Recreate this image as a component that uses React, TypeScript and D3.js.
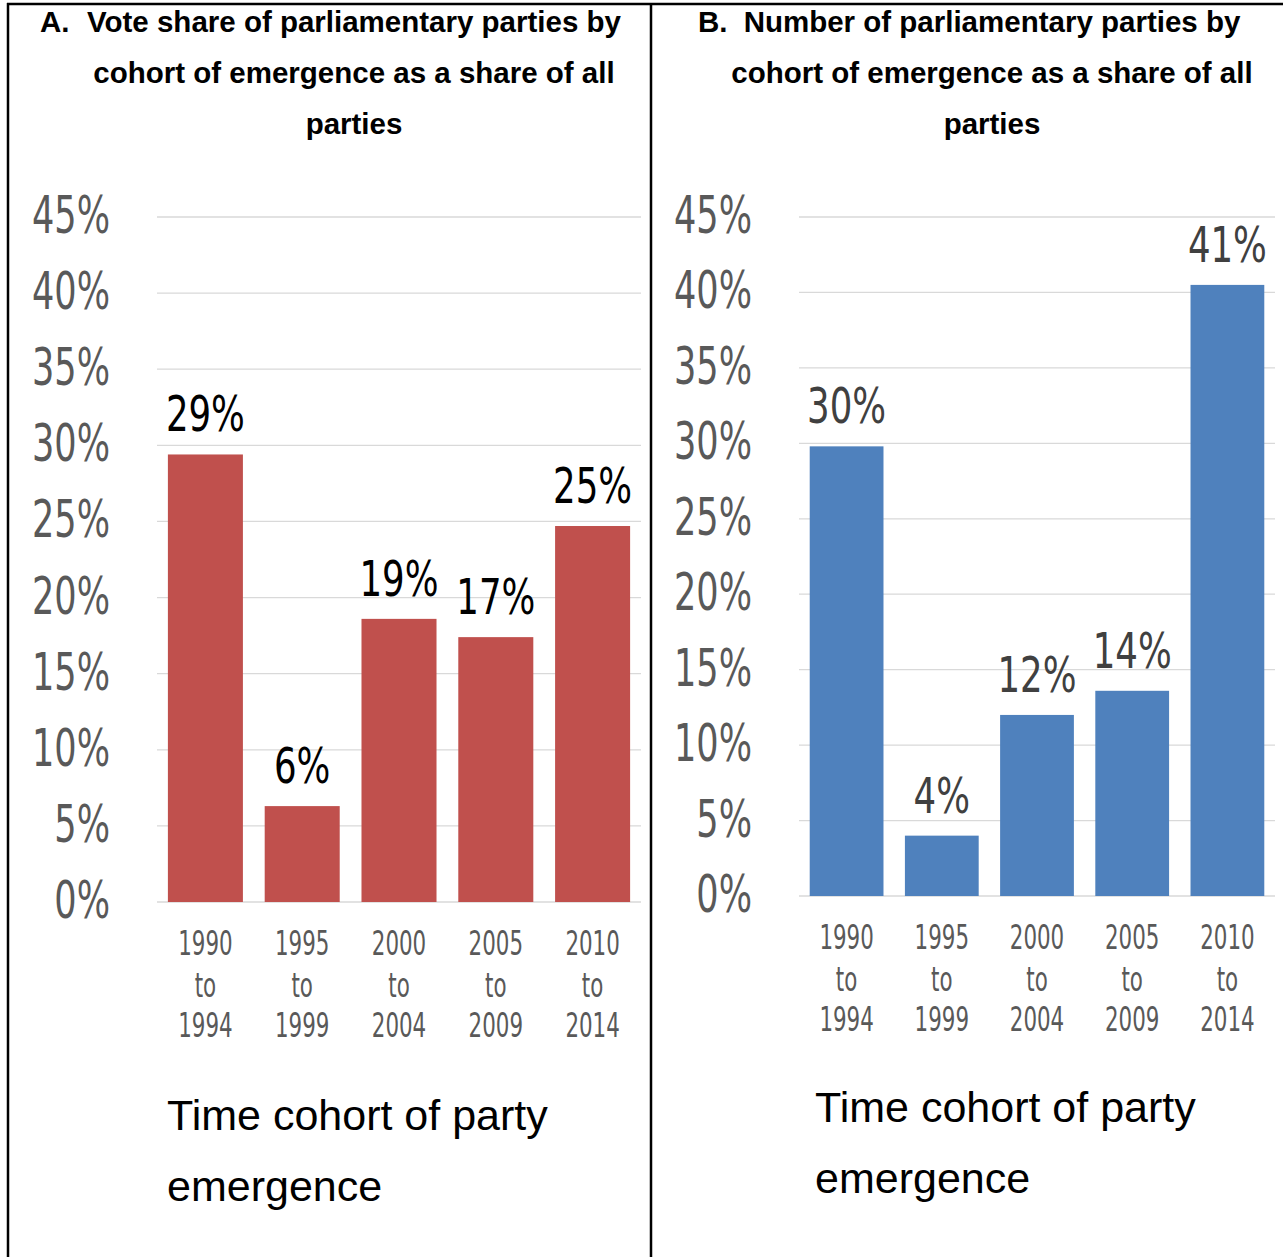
import React from "react";
import * as d3 from "d3";

const cohortStart = ["1990", "1995", "2000", "2005", "2010"];
const cohortEnd = ["1994", "1999", "2004", "2009", "2014"];
const voteShare = [29.4, 6.3, 18.6, 17.4, 24.7];
const partyShare = [29.8, 4.0, 12.0, 13.6, 40.5];
const yTicks = [0, 5, 10, 15, 20, 25, 30, 35, 40, 45];
const titleA = ["Vote share of parliamentary parties by", "cohort of emergence as a share of all", "parties"];
const titleB = ["Number of parliamentary parties by", "cohort of emergence as a share of all", "parties"];
const axisTitle = ["Time cohort of party", "emergence"];

const W = 1283;
const H = 1257;
const COND = "'Liberation Sans Narrow', 'DejaVu Sans Condensed', 'Arial Narrow', sans-serif";
const ARIAL = "'Liberation Sans', Arial, Helvetica, sans-serif";

type PanelProps = {
  values: number[];
  color: string;
  labelColor: string;
  left: number;
  right: number;
  top: number;
  zero: number;
  xLabelBase: number;
  marker: string;
  markerX: number;
  titleLines: string[];
  titleCx: number;
  axisX: number;
  axisBase: number;
};

function CText({ x, y, anchor, size, fill, sx, children }: any) {
  return (
    <text
      transform={`translate(${x},${y}) scale(${sx},1)`}
      textAnchor={anchor}
      fontFamily={COND}
      fontSize={size}
      fill={fill}
    >
      {children}
    </text>
  );
}

function Panel(p: PanelProps) {
  const x = d3
    .scaleBand<string>()
    .domain(cohortStart)
    .range([p.left, p.right])
    .paddingInner(0.225)
    .paddingOuter(0.1125);
  const y = d3.scaleLinear().domain([0, 45]).range([p.zero, p.top]);
  const titleBases = [32, 83, 134];
  return (
    <g>
      <g fontFamily={ARIAL} fontWeight="bold" fontSize={29.5} fill="#000">
        <text x={p.markerX} y={titleBases[0]}>{p.marker}</text>
        {p.titleLines.map((t, i) => (
          <text key={i} x={p.titleCx} y={titleBases[i]} textAnchor="middle">
            {t}
          </text>
        ))}
      </g>
      {yTicks.map((t) => (
        <g key={t}>
          <line x1={p.left} x2={p.right} y1={y(t)} y2={y(t)} stroke="#d9d9d9" strokeWidth={1.3} />
          <CText x={p.left - 47} y={y(t) + 16} anchor="end" size={52} sx={0.75} fill="#595959">
            {`${t}%`}
          </CText>
        </g>
      ))}
      {p.values.map((v, i) => {
        const c = cohortStart[i];
        const bx = x(c)!;
        const bw = x.bandwidth();
        return (
          <g key={c}>
            <rect x={bx} y={y(v)} width={bw} height={p.zero - y(v)} fill={p.color} />
            <CText x={bx + bw / 2} y={y(v) - 23} anchor="middle" size={50} sx={0.79} fill={p.labelColor}>
              {`${Math.round(v)}%`}
            </CText>
            <CText x={bx + bw / 2} y={p.xLabelBase} anchor="middle" size={34} sx={0.7} fill="#595959">
              {c}
            </CText>
            <CText x={bx + bw / 2} y={p.xLabelBase + 42} anchor="middle" size={34} sx={0.7} fill="#595959">
              to
            </CText>
            <CText x={bx + bw / 2} y={p.xLabelBase + 82} anchor="middle" size={34} sx={0.7} fill="#595959">
              {cohortEnd[i]}
            </CText>
          </g>
        );
      })}
      {axisTitle.map((t, i) => (
        <text key={t} x={p.axisX} y={p.axisBase + i * 71} fontFamily={ARIAL} fontSize={43} fill="#000">
          {t}
        </text>
      ))}
    </g>
  );
}

export default function App() {
  return (
    <svg
      width={W}
      height={H}
      viewBox={`0 0 ${W} ${H}`}
      style={{ position: "absolute", left: 0, top: 0, display: "block", background: "#fff" }}
    >
      <rect x={0} y={0} width={W} height={H} fill="#fff" />
      <Panel
        values={voteShare}
        color="#C0504D"
        labelColor="#000000"
        left={157}
        right={641}
        top={217}
        zero={902}
        xLabelBase={955}
        marker="A."
        markerX={40}
        titleLines={titleA}
        titleCx={354}
        axisX={167}
        axisBase={1130}
      />
      <Panel
        values={partyShare}
        color="#4F81BD"
        labelColor="#404040"
        left={799}
        right={1275}
        top={217}
        zero={896}
        xLabelBase={949}
        marker="B."
        markerX={698}
        titleLines={titleB}
        titleCx={992}
        axisX={815}
        axisBase={1122}
      />
      <line x1={7} x2={W} y1={4} y2={4} stroke="#000" strokeWidth={2.5} />
      <line x1={8} x2={8} y1={3} y2={H} stroke="#000" strokeWidth={2.5} />
      <line x1={651} x2={651} y1={3} y2={H} stroke="#000" strokeWidth={2.5} />
    </svg>
  );
}
